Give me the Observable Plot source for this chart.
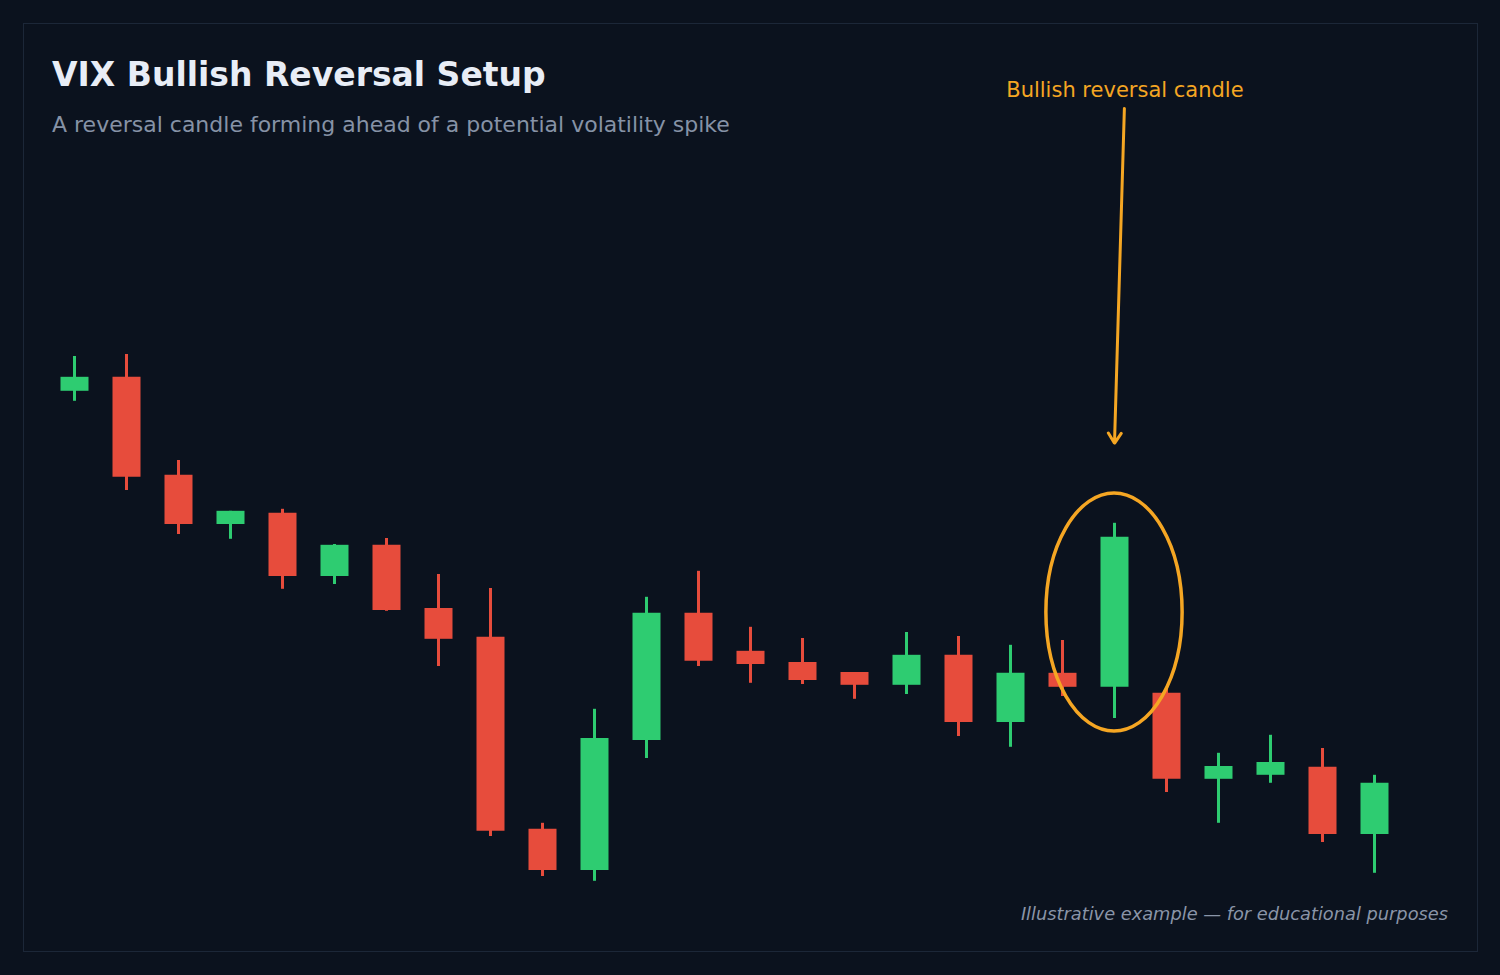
<!DOCTYPE html>
<html>
<head>
<meta charset="utf-8">
<script src="https://cdn.jsdelivr.net/npm/d3@7"></script>
<script src="https://cdn.jsdelivr.net/npm/@observablehq/plot@0.6"></script>
<style>
  html, body { margin: 0; padding: 0; background: #0b121e; width: 1500px; height: 975px; overflow: hidden; }
  body { position: relative; font-family: "DejaVu Sans", sans-serif; }
  #frame { position: absolute; left: 23px; top: 23px; width: 1453px; height: 927px; border: 1.5px solid #1c2738; box-sizing: content-box; }
  #title { position: absolute; left: 52px; top: 58px; font-size: 33px; font-weight: bold; color: #e8edf6; line-height: 1; white-space: nowrap; }
  #subtitle { position: absolute; left: 52px; top: 114px; font-size: 22px; color: #8692a6; line-height: 1; white-space: nowrap; }
  #caption { position: absolute; right: 52px; top: 905px; font-size: 17.8px; font-style: italic; color: #8a95a8; line-height: 1; white-space: nowrap; }
  #chart { position: absolute; left: 0; top: 0; }
</style>
</head>
<body>
<div id="frame"></div>
<div id="chart"></div>
<div id="title">VIX Bullish Reversal Setup</div>
<div id="subtitle">A reversal candle forming ahead of a potential volatility spike</div>
<div id="caption">Illustrative example — for educational purposes</div>
<script>
// Session index (no axis shown)
const session = d3.range(26);
const open  = [22.73, 23.08, 20.63, 19.40, 19.68, 18.10, 18.88, 17.30, 16.58, 11.78, 10.75, 14.00, 17.18, 16.23, 15.95, 15.70, 15.38, 16.13, 14.45, 15.68, 15.33, 15.18, 13.03, 13.13, 13.33, 11.65];
const close = [23.08, 20.58, 19.40, 19.73, 18.10, 18.88, 17.25, 16.53, 11.73, 10.75, 14.05, 17.18, 15.98, 15.90, 15.50, 15.38, 16.13, 14.45, 15.68, 15.33, 19.08, 13.03, 13.35, 13.45, 11.65, 12.93];
const high  = [23.60, 23.65, 21.00, 19.73, 19.78, 18.90, 19.05, 18.15, 17.80, 11.93, 14.78, 17.58, 18.23, 16.83, 16.55, 15.70, 16.70, 16.60, 16.38, 16.50, 19.43, 15.33, 13.68, 14.13, 13.80, 13.13];
const low   = [22.48, 20.25, 19.15, 19.03, 17.78, 17.90, 17.23, 15.85, 11.60, 10.60, 10.48, 13.55, 15.85, 15.43, 15.40, 15.03, 15.15, 14.10, 13.83, 15.10, 14.55, 12.70, 11.93, 12.93, 11.45, 10.68];

// Annotation
const highlightIndex = 20;
const annotationLabel = "Bullish reversal candle";
const ellipseCenter = 17.2, ellipseRx = 1.31, ellipseRy = 2.975;
const arrowFrom = {x: 20.19, y: 29.8};
const arrowTo = {x: 20.0, y: 21.43};
const labelPos = {x: 20.2, y: 30.09};

const GREEN = "#2ecc71", RED = "#e74c3c", ORANGE = "#f5a623";

const data = session.map(i => ({
  i, open: open[i], close: close[i], high: high[i], low: low[i],
  dir: close[i] >= open[i] ? "up" : "down"
}));

function ellipseMark(cxv, cyv, rxv, ryv) {
  return (index, scales) => {
    const cx = scales.x(cxv), cy = scales.y(cyv);
    const rx = Math.abs(scales.x(cxv + rxv) - cx);
    const ry = Math.abs(scales.y(cyv + ryv) - cy);
    const el = d3.create("svg:ellipse")
      .attr("cx", cx).attr("cy", cy).attr("rx", rx).attr("ry", ry)
      .attr("fill", "none").attr("stroke", ORANGE).attr("stroke-width", 3.5);
    return el.node();
  };
}

const chart = Plot.plot({
  width: 1500,
  height: 975,
  margin: 0,
  style: {background: "transparent", overflow: "visible"},
  x: {domain: [0, 25], range: [74, 1374], axis: null},
  y: {domain: [10, 30], range: [900, 100], axis: null},
  color: {domain: ["up", "down"], range: [GREEN, RED]},
  marks: [
    Plot.ruleX(data, {x: "i", y1: "low", y2: "high", stroke: "dir", strokeWidth: 3}),
    Plot.ruleX(data, {x: "i", y1: "open", y2: "close", stroke: "dir", strokeWidth: 28}),
    ellipseMark(highlightIndex, ellipseCenter, ellipseRx, ellipseRy),
    Plot.arrow([0], {x1: () => arrowFrom.x, y1: () => arrowFrom.y, x2: () => arrowTo.x, y2: () => arrowTo.y, stroke: ORANGE, strokeWidth: 3, headLength: 6, headAngle: 65}),
    Plot.text([annotationLabel], {x: () => labelPos.x, y: () => labelPos.y, text: d => d, fill: ORANGE, fontSize: 21, fontFamily: "DejaVu Sans", textAnchor: "middle", lineAnchor: "bottom"})
  ]
});
document.getElementById("chart").appendChild(chart);
</script>
</body>
</html>
